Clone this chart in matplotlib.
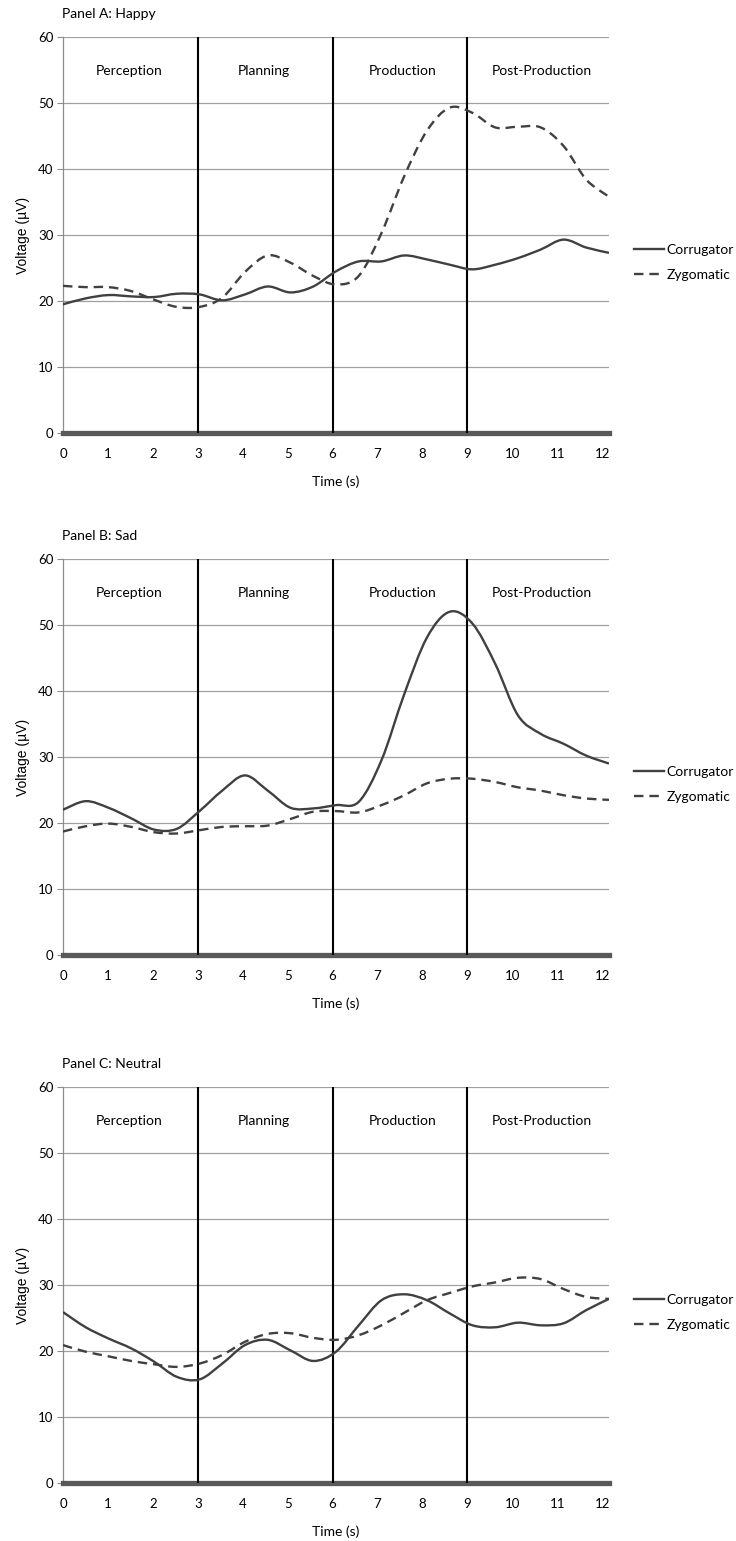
import matplotlib.pyplot as plt
import numpy as np
from matplotlib.path import Path
from matplotlib.patches import PathPatch
from matplotlib.lines import Line2D

# time axis (s): values every ~0.5 s (curves run a bit past 12)
t = np.arange(25) * 0.5 * 12.15 / 12

# Panel A: Happy
happy_corr = [19.5, 20.4, 20.9, 20.7, 20.6, 21.1, 21.0, 20.1, 21.0, 22.2, 21.3, 22.2, 24.5,
              26.0, 26.0, 26.9, 26.3, 25.5, 24.8, 25.5, 26.5, 27.8, 29.3, 28.1, 27.3]
happy_zyg = [22.3, 22.1, 22.1, 21.5, 20.2, 19.1, 19.1, 20.5, 24.4, 26.9, 25.8, 23.8, 22.5,
             23.8, 30.3, 38.9, 45.8, 49.3, 48.5, 46.3, 46.4, 46.3, 43.5, 38.4, 35.8]

# Panel B: Sad
sad_corr = [22.0, 23.3, 22.3, 20.7, 19.0, 19.1, 21.8, 24.9, 27.2, 24.9, 22.3, 22.2, 22.7,
            23.2, 29.5, 39.5, 48.1, 52.0, 50.2, 44.1, 36.3, 33.5, 32.0, 30.2, 29.0]
sad_zyg = [18.7, 19.5, 19.9, 19.4, 18.6, 18.4, 18.9, 19.4, 19.5, 19.6, 20.6, 21.7, 21.8,
           21.6, 22.7, 24.2, 26.0, 26.7, 26.7, 26.2, 25.4, 24.9, 24.2, 23.7, 23.5]

# Panel C: Neutral
neu_corr = [25.9, 23.6, 21.9, 20.4, 18.4, 16.1, 15.7, 18.1, 20.9, 21.7, 20.1, 18.5, 19.9,
            23.9, 27.7, 28.6, 27.7, 25.7, 23.9, 23.6, 24.3, 23.9, 24.2, 26.2, 27.9]
neu_zyg = [20.9, 19.9, 19.2, 18.5, 18.0, 17.6, 18.1, 19.4, 21.4, 22.6, 22.7, 22.0, 21.7,
           22.4, 23.9, 25.8, 27.7, 28.8, 29.8, 30.4, 31.1, 30.9, 29.4, 28.2, 27.9]

titles = ['Panel A: Happy', 'Panel B: Sad', 'Panel C: Neutral']
phases = ['Perception', 'Planning', 'Production', 'Post-Production']
phase_mid = [1.48, 4.48, 7.55, 10.65]
boundaries = [3, 6, 9]

panels = [(happy_corr, happy_zyg), (sad_corr, sad_zyg), (neu_corr, neu_zyg)]
bottoms = [0.719, 0.3803, 0.0376]

LINE_COL = '#404040'
DASH = (0, (4, 2.5))


def smooth_path(x, y):
    # Excel-style smoothed line: Catmull-Rom segments drawn as cubic Beziers
    p = np.column_stack([x, y]).astype(float)
    ext = np.vstack([p[0], p, p[-1]])
    verts = [p[0]]
    codes = [Path.MOVETO]
    for i in range(len(p) - 1):
        p0, p1, p2, p3 = ext[i], ext[i + 1], ext[i + 2], ext[i + 3]
        verts += [p1 + (p2 - p0) / 6, p2 - (p3 - p1) / 6, p2]
        codes += [Path.CURVE4] * 3
    return Path(verts, codes)


plt.rcParams['font.family'] = ['Lato', 'DejaVu Sans']

fig = plt.figure(figsize=(7.36, 15.41), dpi=100)

for (corr, zyg), title, b in zip(panels, titles, bottoms):
    ax = fig.add_axes([0.0856, b, 0.7418, 0.257])
    ax.set_xlim(0, 12.15)
    ax.set_ylim(0, 60)
    ax.set_yticks(range(0, 61, 10))
    ax.set_xticks(range(0, 13))
    ax.grid(axis='y', color='#a0a0a0', linewidth=0.9)
    ax.set_axisbelow(True)

    for x in boundaries:
        ax.axvline(x, color='black', linewidth=1.5, zorder=3)

    ax.add_patch(PathPatch(smooth_path(t, corr), fill=False, edgecolor=LINE_COL,
                           linewidth=1.7, zorder=4))
    ax.add_patch(PathPatch(smooth_path(t, zyg), fill=False, edgecolor=LINE_COL,
                           linewidth=1.7, linestyle=DASH, zorder=4))

    for name, xm in zip(phases, phase_mid):
        ax.text(xm, 54.8, name, ha='center', va='center', fontsize=10)

    for s in ['top', 'right']:
        ax.spines[s].set_visible(False)
    ax.spines['left'].set_color('#8c8c8c')
    ax.spines['left'].set_linewidth(0.9)
    ax.spines['bottom'].set_color('#595959')
    ax.spines['bottom'].set_linewidth(3.8)
    ax.tick_params(axis='y', length=4, color='#8c8c8c', labelsize=9.5, pad=3)
    ax.tick_params(axis='x', length=0, labelsize=9.5, pad=11)

    ax.set_ylabel('Voltage (µV)', fontsize=10, family='Liberation Sans', labelpad=6)
    ax.set_xlabel('Time (s)', fontsize=10, labelpad=11)
    ax.text(-0.002, 1.058, title, transform=ax.transAxes, fontsize=10, ha='left', va='center')

    handles = [Line2D([], [], color=LINE_COL, linewidth=1.7),
               Line2D([], [], color=LINE_COL, linewidth=1.7, linestyle=DASH)]
    ax.legend(handles, ['Corrugator', 'Zygomatic'], loc='center left',
              bbox_to_anchor=(1.035, 0.43), frameon=False, handlelength=2.2,
              handletextpad=0.15, borderaxespad=0, labelspacing=0.95, fontsize=10)

plt.savefig('out.png', dpi=100)
